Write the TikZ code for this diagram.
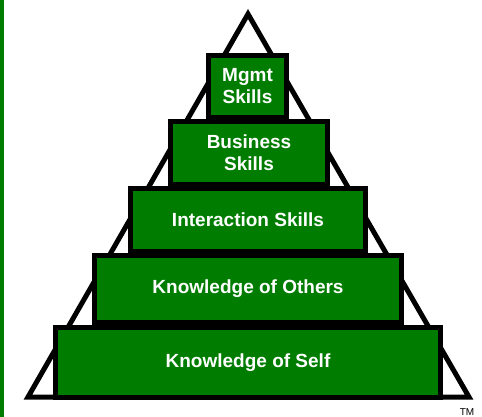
\documentclass[tikz,border=0pt]{standalone}
\usepackage{fontspec}
\setmainfont{Liberation Sans}
\usetikzlibrary{positioning, calc}
\definecolor{pyrgreen}{RGB}{0,125,0}
\tikzset{
    level/.style={draw=black, line width=5pt, fill=pyrgreen},
    label text/.style={text=white, font=\fontsize{19}{22}\selectfont\bfseries, align=center}
}

\begin{document}
\begin{tikzpicture}[x=1pt, y=-1pt]
                \clip (0,0) rectangle (482,417);
                \fill[pyrgreen] (0,0) rectangle (4,417);

                % outline of the pyramid
                \draw[line width=5pt, miter limit=20] (28,397) -- (248,14) -- (469,397) -- cycle;

                \draw[level] (55.5,327.5) rectangle (440.5,397.5) node[midway, label text] (self) {Knowledge of Self};
                \draw[level] (94.5,255.5) rectangle (401.5,322.5) node[midway, label text] (others) {Knowledge of Others};
                \draw[level] (130.5,188.5) rectangle (365.5,251.5) node[midway, label text] (interaction) {Interaction Skills};
                \draw[level] (170.5,121.5) rectangle (327.5,184.5) node[midway, label text] (business) {Business\\Skills};
                \draw[level] (208.5,55.5) rectangle (286.5,117.5) node[midway, label text] (mgmt) {Mgmt\\Skills};

                \node[anchor=south, font=\fontsize{10}{11}\selectfont, inner sep=0pt] (tm) at (467,416) {TM};
            \end{tikzpicture}
\end{document}
